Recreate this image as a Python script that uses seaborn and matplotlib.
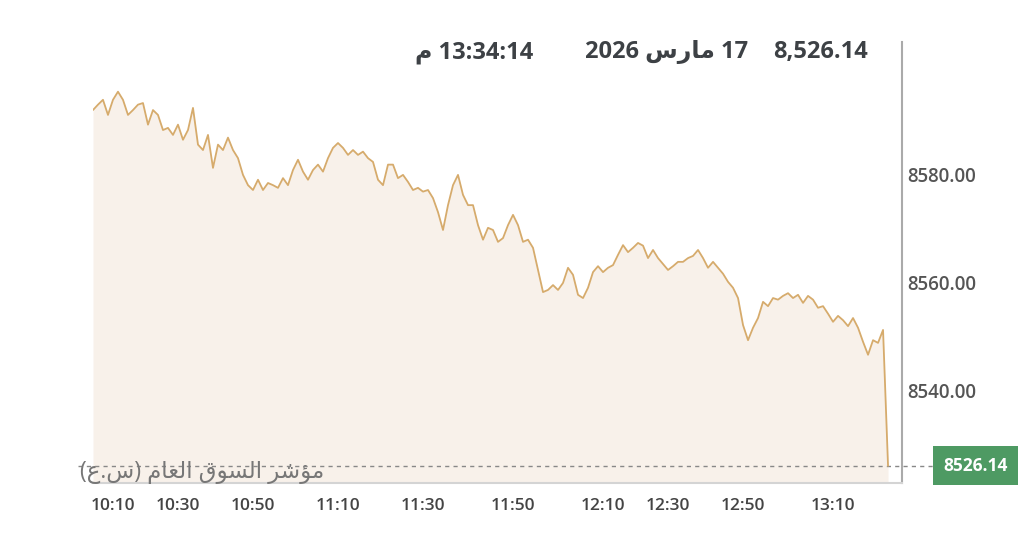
import matplotlib
matplotlib.use("Agg")
import matplotlib.pyplot as plt
import matplotlib.transforms as mtransforms
import seaborn as sns

# index level through the session (one sample per trade step)
index_values = [
    8592.0, 8593.0, 8593.9, 8591.1, 8593.9, 8595.4, 8593.9, 8591.1, 8592.0, 8593.0,
    8593.3, 8589.3, 8592.0, 8591.1, 8588.3, 8588.7, 8587.4, 8589.3, 8586.5, 8588.3,
    8592.4, 8585.6, 8584.6, 8587.4, 8581.3, 8585.6, 8584.6, 8586.9, 8584.6, 8583.1,
    8580.0, 8578.1, 8577.2, 8579.1, 8577.2, 8578.5, 8578.1, 8577.6, 8579.4, 8578.1,
    8580.9, 8582.8, 8580.6, 8579.1, 8580.9, 8581.9, 8580.6, 8583.1, 8585.0, 8585.9,
    8585.0, 8583.7, 8584.6, 8583.7, 8584.3, 8583.1, 8582.4, 8579.1, 8578.1, 8581.9,
    8581.9, 8579.4, 8580.0, 8578.7, 8577.2, 8577.6, 8576.9, 8577.2, 8575.7, 8573.1,
    8569.8, 8574.4, 8578.1, 8580.0, 8576.3, 8574.4, 8574.4, 8570.7, 8568.0, 8570.2,
    8569.8, 8567.6, 8568.3, 8570.7, 8572.6, 8570.7, 8567.6, 8568.0, 8566.5, 8562.4,
    8558.3, 8558.7, 8559.6, 8558.7, 8560.0, 8562.8, 8561.5, 8557.8, 8557.2, 8559.1,
    8562.0, 8563.1, 8562.0, 8562.8, 8563.3, 8565.2, 8567.0, 8565.7, 8566.5, 8567.4,
    8566.9, 8564.6, 8566.1, 8564.6, 8563.5, 8562.4, 8563.1, 8563.9, 8563.9, 8564.6,
    8565.0, 8566.1, 8564.6, 8562.8, 8563.9, 8562.8, 8561.7, 8560.2, 8559.1, 8557.2,
    8552.2, 8549.4, 8551.7, 8553.5, 8556.5, 8555.7, 8557.2, 8556.9, 8557.6, 8558.1,
    8557.2, 8557.8, 8556.3, 8557.6, 8556.9, 8555.4, 8555.7, 8554.3, 8552.8, 8553.9,
    8553.1, 8552.0, 8553.5, 8551.7, 8549.1, 8546.7, 8549.4, 8548.9, 8551.3, 8526.14,
]
steps = list(range(len(index_values)))
last_value = 8526.14

tick_steps = [4, 17, 32, 49, 66, 84, 102, 115, 130, 148]
tick_labels = ["10:10", "10:30", "10:50", "11:10", "11:30",
               "11:50", "12:10", "12:30", "12:50", "13:10"]
y_ticks = [8540, 8560, 8580]

# Arabic written in visual order with presentation forms
date_text = "2026 \uFEB1\uFEAD\uFE8E\uFEE3 17"
time_text = "\uFEE1 13:34:14"
index_name = ("(\uFEC9.\uFEB1) \uFEE1\uFE8E\uFECC\uFEDF\uFE8D "
              "\uFED5\uFEEE\uFEB4\uFEDF\uFE8D \uFEAE\uFEB7\uFE86\uFEE3")

sns.set_style("white")
plt.rcParams["font.family"] = ["Open Sans", "DejaVu Sans"]

line_color = "#d6ab6c"
fill_color = "#f8f1ea"
title_color = "#3d4145"

fig = plt.figure(figsize=(10.24, 5.49), dpi=100)
ax = fig.add_axes([0.0908, 0.1202, 0.7901, 0.8033])

ax.fill_between(steps, index_values, 8500, color=fill_color, linewidth=0)
sns.lineplot(x=steps, y=index_values, ax=ax, color=line_color, linewidth=1.3)

ax.set_xlim(0, 161.8)
ax.set_ylim(8522.96, 8604.6)

ax.yaxis.tick_right()
ax.set_yticks(y_ticks)
ax.set_yticklabels([f"{v:.2f}" for v in y_ticks], fontsize=13.5,
                   fontweight="semibold", color="#555555")
ax.set_xticks(tick_steps)
ax.set_xticklabels(tick_labels, fontsize=12.5, fontweight="semibold", color="#444444")
ax.tick_params(axis="both", length=0)
ax.tick_params(axis="x", pad=11)
ax.tick_params(axis="y", pad=4)

for side in ["left", "top"]:
    ax.spines[side].set_visible(False)
ax.spines["right"].set_color("#aaaaaa")
ax.spines["right"].set_linewidth(1.5)
ax.spines["bottom"].set_color("#d4d4d4")
ax.spines["bottom"].set_linewidth(1.5)

# dotted guide for the last value
ax.axhline(last_value, xmin=-0.018, xmax=1.04, color="#888888", linewidth=1,
           linestyle=(0, (3, 3)), clip_on=False, zorder=1)

blend = mtransforms.blended_transform_factory(ax.transAxes, ax.transData)
ax.text(1.051, last_value, f"{last_value:.2f}", transform=blend, ha="left",
        va="center", fontsize=12.5, fontweight="bold", color="white",
        bbox=dict(boxstyle="square,pad=0.6", facecolor="#4e9a63", edgecolor="none"))

ax.text(-0.016, 0.025, index_name, transform=ax.transAxes, ha="left", va="center",
        fontsize=16.5, color="#777777")

fig.text(868 / 1024, 1 - 52 / 549, "8,526.14", ha="right", va="center",
         fontsize=17, fontweight="bold", color=title_color)
fig.text(748 / 1024, 1 - 52 / 549, date_text, ha="right", va="center",
         fontsize=17, fontweight="bold", color=title_color)
fig.text(533 / 1024, 1 - 52 / 549, time_text, ha="right", va="center",
         fontsize=17, fontweight="bold", color=title_color)

fig.savefig("out.png", dpi=100)
